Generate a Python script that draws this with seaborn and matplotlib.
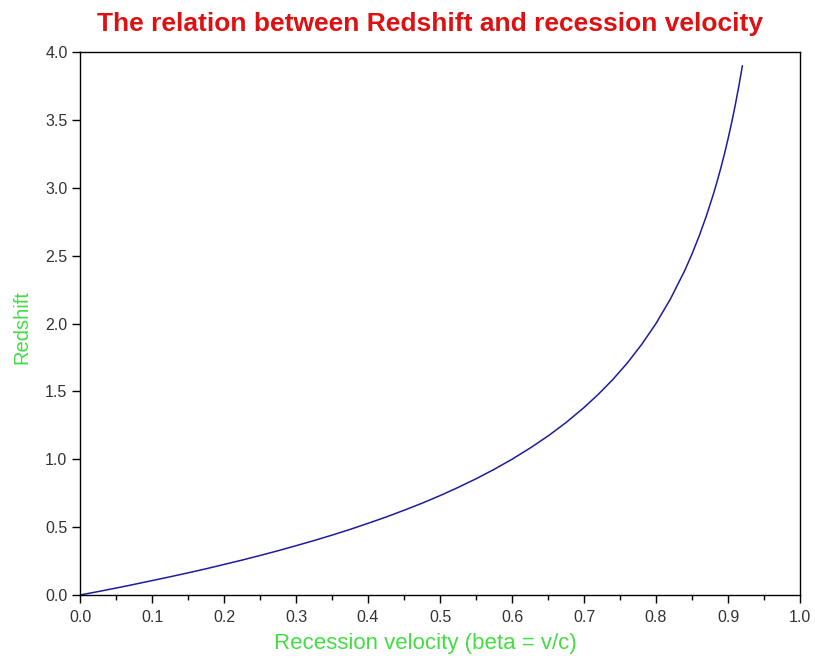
import matplotlib
matplotlib.use("Agg")
import matplotlib.pyplot as plt
import seaborn as sns
import pandas as pd
from matplotlib.ticker import MultipleLocator

# Values
beta = [0.0, 0.025, 0.05, 0.075, 0.10, 0.125, 0.15, 0.175, 0.20, 0.225,
        0.25, 0.275, 0.30, 0.325, 0.35, 0.375, 0.40, 0.425, 0.45, 0.475,
        0.50, 0.525, 0.55, 0.575, 0.60, 0.625, 0.65, 0.675, 0.70, 0.72,
        0.74, 0.76, 0.78, 0.80, 0.82, 0.84, 0.85, 0.86, 0.87, 0.88,
        0.885, 0.89, 0.895, 0.90, 0.905, 0.91, 0.915, 0.92]
redshift = [0.0, 0.025, 0.051, 0.078, 0.106, 0.134, 0.163, 0.193, 0.225,
            0.257, 0.291, 0.326, 0.363, 0.401, 0.441, 0.483, 0.528, 0.574,
            0.624, 0.676, 0.732, 0.792, 0.856, 0.925, 1.000, 1.082, 1.171,
            1.270, 1.381, 1.479, 1.587, 1.708, 1.845, 2.000, 2.180, 2.391,
            2.512, 2.645, 2.793, 2.958, 3.049, 3.145, 3.248, 3.359, 3.478,
            3.607, 3.747, 3.899]

x_ticks = [0.0, 0.1, 0.2, 0.3, 0.4, 0.5, 0.6, 0.7, 0.8, 0.9, 1.0]
y_ticks = [0.0, 0.5, 1.0, 1.5, 2.0, 2.5, 3.0, 3.5, 4.0]

title = "The relation between Redshift and recession velocity"
xlabel = "Recession velocity (beta = v/c)"
ylabel = "Redshift"

sns.set_style("ticks")
plt.rcParams['font.family'] = ['Liberation Sans', 'DejaVu Sans']

df = pd.DataFrame({"beta": beta, "z": redshift})

fig = plt.figure(figsize=(8.15, 6.61), dpi=100)
ax = fig.add_axes([80/815, 1 - 595/661, 720/815, 543/661])

sns.lineplot(data=df, x="beta", y="z", ax=ax, color="#1c1c9c", linewidth=1.1)

ax.set_xlim(0, 1.0)
ax.set_ylim(0, 4.0)
ax.set_xticks(x_ticks)
ax.set_yticks(y_ticks)
ax.xaxis.set_minor_locator(MultipleLocator(0.05))
ax.set_xticklabels([f"{v:.1f}" for v in x_ticks])
ax.set_yticklabels([f"{v:.1f}" for v in y_ticks])

for s in ax.spines.values():
    s.set_visible(True)
    s.set_color("black")
    s.set_linewidth(1.0)

ax.tick_params(axis="both", which="major", direction="out", length=6,
               width=1.0, color="black", labelsize=11.5, labelcolor="#333333",
               top=False, right=False)
ax.tick_params(axis="x", which="minor", direction="out", length=3.5,
               width=1.0, color="black", top=False)
ax.tick_params(axis="x", which="major", pad=5)
ax.tick_params(axis="y", which="major", pad=3)

ax.set_xlabel(xlabel, color="#44dd44", fontsize=16)
ax.set_ylabel(ylabel, color="#44dd44", fontsize=14.5)
ax.xaxis.set_label_coords((425 - 80) / 720, (595 - 633) / 543)
ax.yaxis.set_label_coords((31 - 80) / 720, (595 - 327) / 543)

fig.text(430/815, 1 - 24/661, title, color="#dd1111", fontsize=19,
         fontweight="bold", ha="center", va="center")

fig.savefig("out.png", dpi=100, facecolor="white")
